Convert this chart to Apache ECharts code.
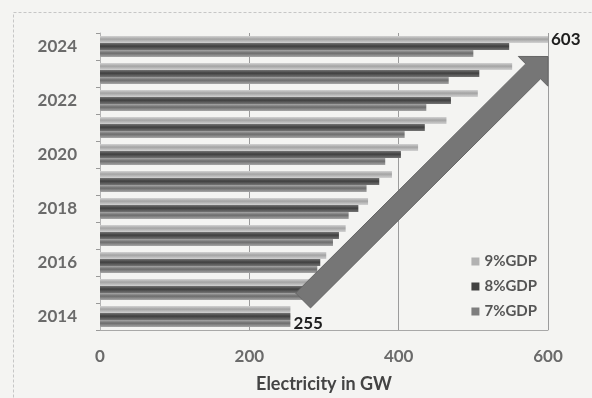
<!DOCTYPE html>
<html>
<head>
<meta charset="utf-8">
<script src="https://cdn.jsdelivr.net/npm/echarts@6/dist/echarts.min.js"></script>
<style>
  html, body { margin: 0; padding: 0; background: #f4f4f2; }
  #chart { width: 592px; height: 398px; }
</style>
</head>
<body>
<div id="chart"></div>
<script>
// Projected electricity demand (GW) under three GDP growth scenarios
const years   = ['2014', '2015', '2016', '2017', '2018', '2019', '2020', '2021', '2022', '2023', '2024'];
const gdp9    = [255, 283, 303, 329, 359, 391, 426, 464, 506, 552, 603];
const gdp8    = [255, 276, 295, 320, 346, 374, 403, 435, 470, 508, 548];
const gdp7    = [255, 271, 291, 312, 333, 357, 382, 408, 437, 467, 500];
const seriesNames = ['9%GDP', '8%GDP', '7%GDP'];
const xTickValues = [0, 200, 400, 600];

const FONT = 'Lato, "Open Sans", sans-serif';
const swatch = ['#b2b2b2', '#414141', '#7e7e7e'];

const chart = echarts.init(document.getElementById('chart'), null, { renderer: 'canvas' });

function shade(top, bottom) {
  return new echarts.graphic.LinearGradient(0, 0, 0, 1, [
    { offset: 0, color: top },
    { offset: 0.45, color: bottom },
    { offset: 1, color: top }
  ]);
}

const valueLabel = {
  show: true,
  position: 'right',
  distance: 3,
  color: '#1e1e1e',
  fontFamily: FONT,
  fontWeight: 'bold',
  fontSize: 17
};

// Only the start (2014) and end (2024) values carry a label
function withLabel(values, index) {
  return values.map((v, i) => i === index ? { value: v, label: valueLabel } : v);
}

const barCommon = {
  type: 'bar',
  barWidth: 7,
  barGap: '0%',
  animation: false
};

chart.setOption({
  backgroundColor: '#f4f4f2',
  textStyle: { fontFamily: FONT },
  grid: { left: 100, right: 44, top: 33, bottom: 67 },
  legend: {
    data: seriesNames.map((name, i) => ({ name, itemStyle: { color: swatch[i] } })),
    orient: 'vertical',
    right: 50,
    top: 249,
    itemWidth: 8,
    itemHeight: 8,
    itemGap: 10,
    icon: 'rect',
    textStyle: { color: '#555', fontFamily: FONT, fontWeight: 'bold', fontSize: 15 }
  },
  xAxis: {
    type: 'value',
    min: xTickValues[0],
    max: xTickValues[xTickValues.length - 1],
    interval: xTickValues[1] - xTickValues[0],
    name: 'Electricity in GW',
    nameLocation: 'middle',
    nameGap: 45,
    nameTextStyle: { color: '#444', fontFamily: FONT, fontWeight: 'bold', fontSize: 18 },
    axisLine: { show: true, lineStyle: { color: '#a8a8a8', width: 1 } },
    axisTick: { show: false },
    axisLabel: { color: '#6a6a6a', fontFamily: FONT, fontWeight: 'bold', fontSize: 17, margin: 18 },
    splitLine: { show: true, lineStyle: { color: '#9c9c9c', width: 1 } }
  },
  yAxis: {
    type: 'category',
    data: years,
    axisLine: { show: true, lineStyle: { color: '#b4b4b4' } },
    axisTick: { show: true, length: 4, interval: 0, lineStyle: { color: '#999' } },
    axisLabel: { interval: 1, color: '#6a6a6a', fontFamily: FONT, fontWeight: 'bold', fontSize: 17, margin: 23 }
  },
  series: [
    Object.assign({}, barCommon, {
      name: seriesNames[0],
      data: withLabel(gdp9, years.indexOf('2024')),
      itemStyle: { color: shade('#d2d2d2', '#a3a3a3') }
    }),
    Object.assign({}, barCommon, {
      name: seriesNames[1],
      data: gdp8,
      itemStyle: { color: shade('#747474', '#3f3f3f') }
    }),
    Object.assign({}, barCommon, {
      name: seriesNames[2],
      data: withLabel(gdp7, years.indexOf('2014')),
      itemStyle: { color: shade('#a6a6a6', '#6c6c6c') }
    })
  ]
});

// Growth arrow from the 2014 level up to the 2024 level
function growthArrow() {
  const first = years[0], last = years[years.length - 1];
  const tailPt = chart.convertToPixel({ gridIndex: 0 }, [272, first]);
  const tipPt = chart.convertToPixel({ gridIndex: 0 }, [xTickValues[xTickValues.length - 1], last]);
  const tail = [tailPt[0], tailPt[1] - 16];
  const tip = [tipPt[0], tipPt[1] + 10];
  const dx = tip[0] - tail[0], dy = tip[1] - tail[1];
  const len = Math.hypot(dx, dy);
  const u = [dx / len, dy / len];
  const n = [-u[1], u[0]];
  const shaftHalf = 10.5, headHalf = 21, headLen = 21;
  const base = [tip[0] - u[0] * headLen, tip[1] - u[1] * headLen];
  const p = (c, k, v) => [c[0] + v[0] * k, c[1] + v[1] * k];
  return [
    p(tail, shaftHalf, n),
    p(base, shaftHalf, n),
    p(base, headHalf, n),
    tip,
    p(base, -headHalf, n),
    p(base, -shaftHalf, n),
    p(tail, -shaftHalf, n)
  ];
}

chart.setOption({
  graphic: [
    {
      type: 'rect',
      silent: true,
      z: -1,
      shape: { x: 13.5, y: 12.5, width: 620, height: 420 },
      style: { fill: 'none', stroke: '#c6c6c6', lineWidth: 1, lineDash: [3, 2] }
    },
    {
      type: 'polygon',
      silent: true,
      z: 100,
      shape: { points: growthArrow() },
      style: { fill: '#767676', stroke: '#666', lineWidth: 1 }
    }
  ]
});
</script>
</body>
</html>
